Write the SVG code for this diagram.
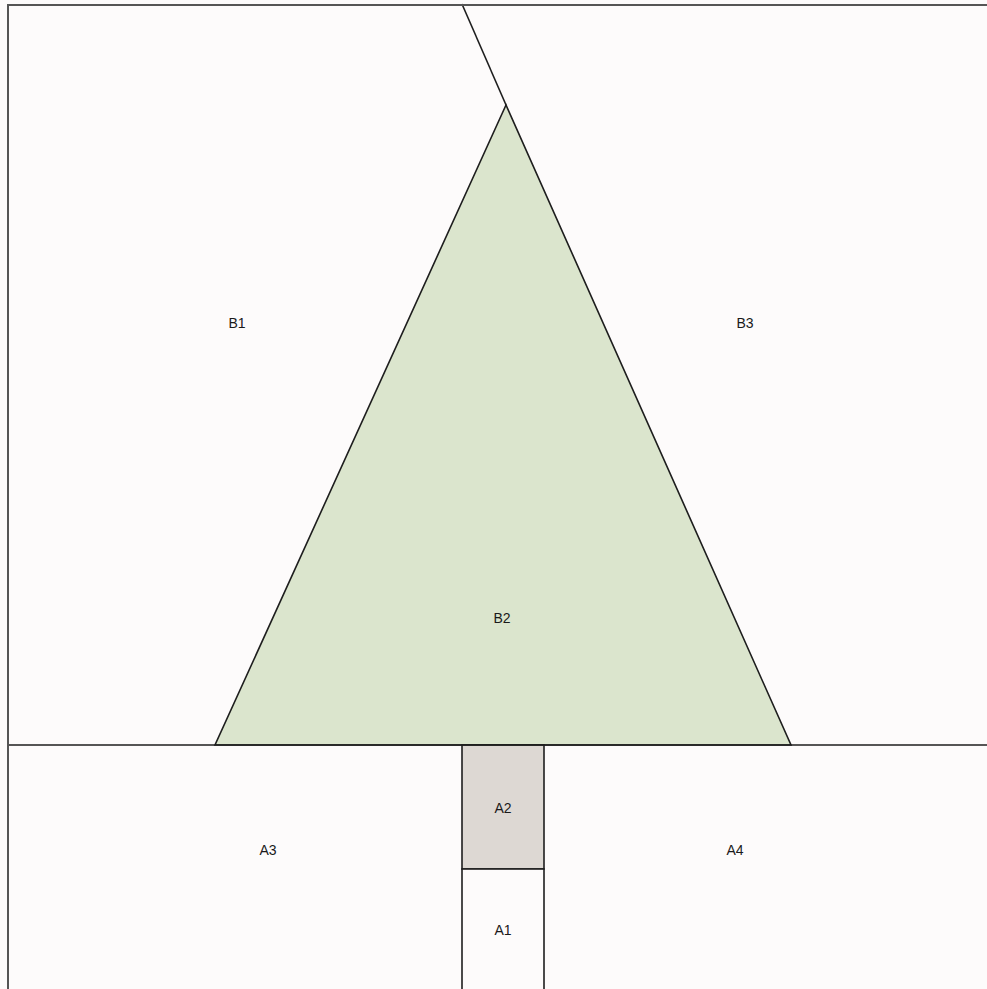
<svg xmlns="http://www.w3.org/2000/svg" width="987" height="989" viewBox="0 0 987 989">
<style>
.ln{stroke:#1e1e1e;stroke-width:1.6;fill:none}
.pc{stroke:#1e1e1e;stroke-width:1.6}
text{font-family:"Liberation Sans",Arial,sans-serif;font-size:14px;fill:#1a1a1a;text-anchor:middle;dominant-baseline:central}
</style>
<rect x="0" y="0" width="987" height="989" fill="#fdfbfb"/>
<g id="B1"><text x="237" y="323">B1</text></g>
<g id="B3"><text x="745" y="323">B3</text></g>
<g id="B2"><polygon class="pc" points="506,105 215,745 791,745" fill="#dbe5cd"/><text x="502" y="618">B2</text></g>
<g id="A3"><text x="268" y="850">A3</text></g>
<g id="A4"><text x="735" y="850">A4</text></g>
<g id="A2"><rect class="pc" x="462" y="745" width="82" height="124" fill="#ddd8d3"/><text x="503" y="808">A2</text></g>
<g id="A1"><rect class="pc" x="462" y="869" width="82" height="125" fill="#fdfbfb"/><text x="503" y="930">A1</text></g>
<g id="connectors">
<line class="ln" x1="462" y1="4" x2="506" y2="105"/>
<line class="ln" x1="8" y1="745" x2="987" y2="745"/>
<path d="M8,989 V5 H987" fill="none" stroke="#555" stroke-width="2"/>
</g>
</svg>
